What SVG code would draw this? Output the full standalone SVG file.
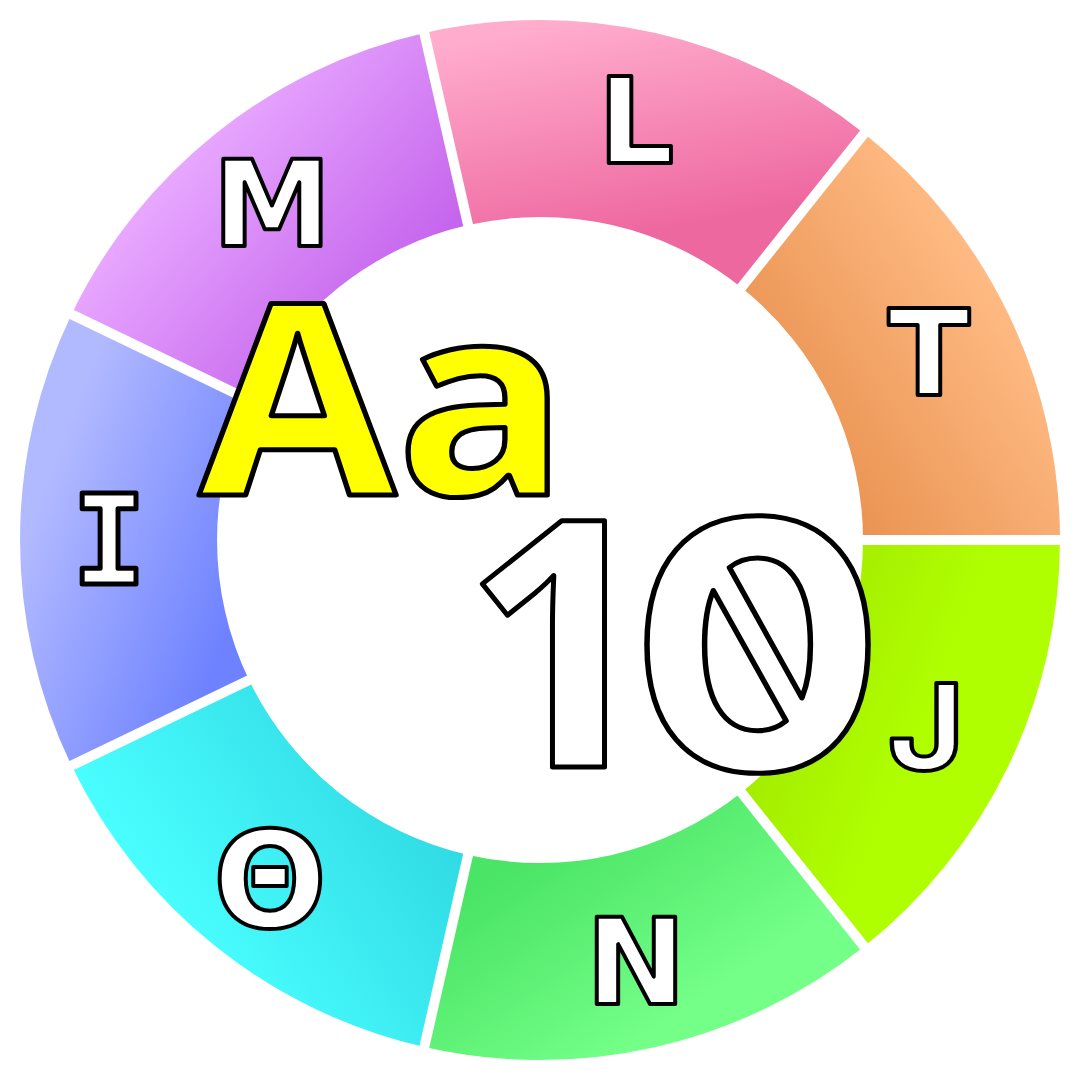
<svg xmlns="http://www.w3.org/2000/svg" width="1081" height="1081" viewBox="0 0 1081 1081">
<style>
.seg{stroke:none}
.gap{stroke:#ffffff;stroke-width:10;stroke-linecap:butt}
.let{font-family:"DejaVu Sans",sans-serif;font-weight:bold;font-size:120px;fill:#ffffff;stroke:#000000;stroke-width:4;stroke-linejoin:round;text-anchor:middle}
.big{font-family:"Open Sans","DejaVu Sans",sans-serif;font-weight:bold;stroke:#000000;stroke-width:5;stroke-linejoin:round}
</style>
<defs>
<linearGradient id="gL" gradientUnits="userSpaceOnUse" x1="600" y1="240" x2="560" y2="25"><stop offset="0" stop-color="#ee68a0"/><stop offset="1" stop-color="#ffaccd"/></linearGradient>
<linearGradient id="gT" gradientUnits="userSpaceOnUse" x1="800" y1="480" x2="1030" y2="330"><stop offset="0" stop-color="#e8904e"/><stop offset="1" stop-color="#ffbb84"/></linearGradient>
<linearGradient id="gJ" gradientUnits="userSpaceOnUse" x1="765" y1="560" x2="960" y2="640"><stop offset="0" stop-color="#9ee400"/><stop offset="1" stop-color="#b0ff00"/></linearGradient>
<linearGradient id="gN" gradientUnits="userSpaceOnUse" x1="520" y1="860" x2="640" y2="1040"><stop offset="0" stop-color="#4ae466"/><stop offset="1" stop-color="#74ff88"/></linearGradient>
<linearGradient id="gO" gradientUnits="userSpaceOnUse" x1="430" y1="800" x2="190" y2="960"><stop offset="0" stop-color="#30dae4"/><stop offset="1" stop-color="#4affff"/></linearGradient>
<linearGradient id="gI" gradientUnits="userSpaceOnUse" x1="240" y1="600" x2="30" y2="520"><stop offset="0" stop-color="#6e82ff"/><stop offset="1" stop-color="#b2baff"/></linearGradient>
<linearGradient id="gM" gradientUnits="userSpaceOnUse" x1="430" y1="270" x2="230" y2="100"><stop offset="0" stop-color="#c462ec"/><stop offset="1" stop-color="#e8a8ff"/></linearGradient>
</defs>
<rect width="1081" height="1081" fill="#ffffff"/>
<g id="ring">
<g id="seg-T"><path class="seg" fill="url(#gT)" d="M864.2 133.4 A520 520 0 0 1 1060 540 L863 540 A323 323 0 0 0 741.4 287.5 Z"/></g>
<g id="seg-J"><path class="seg" fill="url(#gJ)" d="M1060 540 A520 520 0 0 1 864.2 946.6 L741.4 792.5 A323 323 0 0 0 863 540 Z"/></g>
<g id="seg-N"><path class="seg" fill="url(#gN)" d="M864.2 946.6 A520 520 0 0 1 424.3 1047 L468.1 854.9 A323 323 0 0 0 741.4 792.5 Z"/></g>
<g id="seg-O"><path class="seg" fill="url(#gO)" d="M424.3 1047 A520 520 0 0 1 71.5 765.6 L249 680.1 A323 323 0 0 0 468.1 854.9 Z"/></g>
<g id="seg-I"><path class="seg" fill="url(#gI)" d="M71.5 765.6 A520 520 0 0 1 71.5 314.4 L249 399.9 A323 323 0 0 0 249 680.1 Z"/></g>
<g id="seg-M"><path class="seg" fill="url(#gM)" d="M71.5 314.4 A520 520 0 0 1 424.3 33 L468.1 225.1 A323 323 0 0 0 249 399.9 Z"/></g>
<g id="seg-L"><path class="seg" fill="url(#gL)" d="M424.3 33 A520 520 0 0 1 864.2 133.4 L741.4 287.5 A323 323 0 0 0 468.1 225.1 Z"/></g>
</g>
<g id="gaps">
<line class="gap" x1="850" y1="540" x2="1070" y2="540"/>
<line class="gap" x1="733.3" y1="782.4" x2="870.4" y2="954.4"/>
<line class="gap" x1="471" y1="842.2" x2="422.1" y2="1056.7"/>
<line class="gap" x1="260.7" y1="674.5" x2="62.5" y2="769.9"/>
<line class="gap" x1="260.7" y1="405.5" x2="62.5" y2="310.1"/>
<line class="gap" x1="471" y1="237.8" x2="422.1" y2="23.3"/>
<line class="gap" x1="733.3" y1="297.6" x2="870.4" y2="125.6"/>
</g>
<g id="labels">
<g id="label-L"><text class="let" x="636" y="163">L</text></g>
<g id="label-T"><text class="let" x="929" y="395">T</text></g>
<g id="label-J"><text class="let" transform="translate(926 770) scale(1.1 1)" x="0" y="0" style="font-family:Inter,'DejaVu Sans',sans-serif;font-size:120px">J</text></g>
<g id="label-N"><text class="let" x="636" y="1004">N</text></g>
<g id="label-O"><text class="let" x="270" y="927" style="font-size:134px">Θ</text></g>
<g id="label-I"><text class="let" x="109" y="584" style="font-family:'DejaVu Sans Mono',monospace;font-size:124px;stroke-width:5">I</text></g>
<g id="label-M"><text class="let" x="272" y="246">M</text></g>
</g>
<g id="center-text">
<text class="big" transform="translate(199 495) scale(1.07 1)" x="0" y="0" font-size="267" fill="#ffff00">Aa</text>
<text class="big" x="462" y="767" font-size="345" fill="#ffffff">1</text>
<text class="big" transform="translate(757.5 770) scale(-1.1 1)" x="0" y="0" font-size="345" fill="#ffffff" text-anchor="middle" style="font-family:Inter,'Open Sans',sans-serif;font-feature-settings:'zero' 1">0</text>
</g>
</svg>
